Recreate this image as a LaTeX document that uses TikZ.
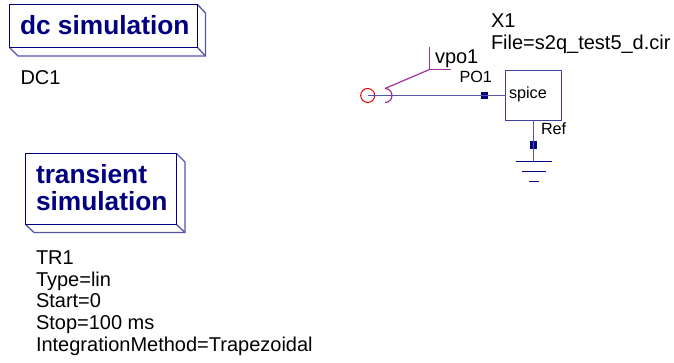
\documentclass[tikz,border=0pt]{standalone}
\usepackage{fontspec}
\setmainfont{Liberation Sans}
\definecolor{wireblue}{RGB}{85,85,170}
\definecolor{navyq}{RGB}{0,0,128}
\definecolor{purpq}{RGB}{160,50,160}
\tikzset{
  txt/.style={anchor=base west,inner sep=0pt,outer sep=0pt,text=black,font=\fontsize{20}{20}\selectfont},
  smalltxt/.style={anchor=base west,inner sep=0pt,outer sep=0pt,text=black,font=\fontsize{16.2}{16.2}\selectfont},
  simtitle/.style={anchor=base west,inner sep=0pt,outer sep=0pt,text=navyq,font=\fontsize{26.3}{26.3}\selectfont\bfseries},
  simbox/.style={draw=navyq,line width=1pt},
  simdepth/.style={draw=wireblue,line width=1.3pt},
  wire/.style={draw=wireblue,line width=1.5pt},
  probe/.style={draw=purpq,line width=1.2pt},
  portsq/.style={fill=navyq,minimum size=7.5pt,inner sep=0pt,outer sep=0pt,draw=none},
  pin/.style={draw=red!90!black,line width=1pt,circle,minimum size=14pt,inner sep=0pt,outer sep=0pt},
  spicebox/.style={draw=navyq!75!white,line width=1pt,minimum width=56pt,minimum height=50pt,inner sep=0pt,outer sep=0pt},
  gnd/.style={draw=navyq,line width=1pt},
}
\begin{document}
\begin{tikzpicture}[x=1pt,y=-1pt]
\useasboundingbox (0,0) rectangle (674,363);
% dc simulation
\draw[simdepth] (9.5,47.5) -- (18,56) -- (205.5,56) -- (205.5,13) -- (197.5,4.5);
\draw[simdepth] (197.5,47.5) -- (205.5,56);
\draw[simbox] (9.5,4.5) rectangle (197.5,47.5);
\node[simtitle] (dct) at (20,35) {dc simulation};
\node[txt] (dc1) at (20.5,85) {DC1};
% transient
\draw[simdepth] (25.5,224.5) -- (34,232.5) -- (185,232.5) -- (185,162) -- (176.5,153.5);
\draw[simdepth] (176.5,224.5) -- (185,232.5);
\draw[simbox] (25.5,153.5) rectangle (176.5,224.5);
\node[simtitle] (tt1) at (36,183.3) {transient};
\node[simtitle] (tt2) at (36,210.7) {simulation};
\node[txt] (t1) at (36,264) {TR1};
\node[txt] (t2) at (36,286) {Type=lin};
\node[txt] (t3) at (36,307.5) {Start=0};
\node[txt] (t4) at (36,329) {Stop=100 ms};
\node[txt] (t5) at (36,351) {IntegrationMethod=Trapezoidal};
% circuit
\node[pin] (pin) at (367.7,95.5) {};
\node[spicebox,anchor=north west] (sp) at (505.5,70.5) {};
\node[smalltxt] (spt) at (509,99) {spice};
\node[txt] (x1) at (491,28) {X1};
\node[txt] (file) at (491,50) {File=s2q\_test5\_d.cir};
\node[portsq] (po) at (484.3,95.5) {};
\node[smalltxt] (pol) at (459.5,82.3) {PO1};
\draw[wire] (pin.center) -- (sp.west |- pin.center);
\coordinate (arctop) at (385,88.5);
\coordinate (arcbot) at (385,102.5);
\draw[probe] (arctop) .. controls (388.9,88.5) and (392,91.6) .. (392,95.5) .. controls (392,99.4) and (388.9,102.5) .. (arcbot);
\coordinate (pk) at (429.5,69.5);
\coordinate (pt) at (429.5,47.5);
\coordinate (pr) at (451,69.5);
\draw[probe] (arctop) -- (pk);
\draw[probe] (pt) -- (pk) -- (pr);
\node[txt] (vl) at (435,63.5) {vpo1};
\coordinate (g1) at (533.7,161.5);
\node[portsq] (rf) at (533.7,145) {};
\draw[wire] (sp.south -| g1) -- (g1);
\node[smalltxt] (rl) at (541,134.5) {Ref};
\draw[gnd] (516,161.5) -- (552,161.5);
\draw[gnd] (522,171.5) -- (545.5,171.5);
\draw[gnd] (529,181.5) -- (539,181.5);
\end{tikzpicture}
\end{document}
